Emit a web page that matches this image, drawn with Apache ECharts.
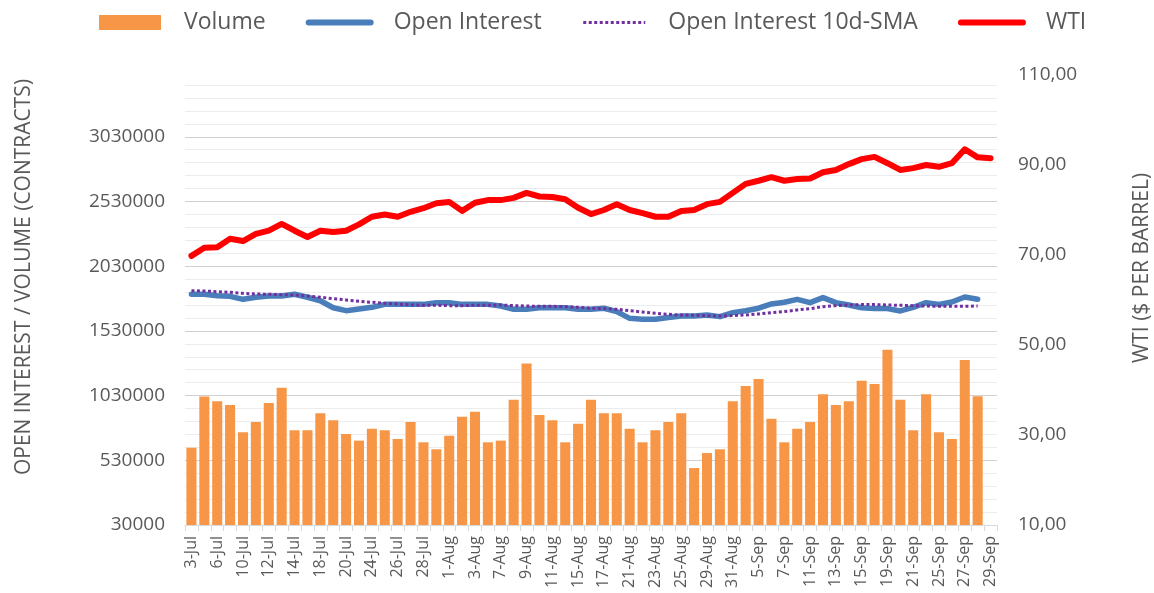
<!DOCTYPE html>
<html>
<head>
<meta charset="utf-8">
<script src="https://cdn.jsdelivr.net/npm/echarts@6/dist/echarts.min.js"></script>
<style>
  html, body { margin: 0; padding: 0; background: #fff; }
  #chart { width: 1154px; height: 593px; }
</style>
</head>
<body>
<div id="chart"></div>
<script>
// trading days, Jul - Sep
var dates = ['3-Jul','5-Jul','6-Jul','7-Jul','10-Jul','11-Jul','12-Jul','13-Jul','14-Jul','17-Jul','18-Jul','19-Jul','20-Jul','21-Jul','24-Jul','25-Jul','26-Jul','27-Jul','28-Jul','31-Jul',
  '1-Aug','2-Aug','3-Aug','4-Aug','7-Aug','8-Aug','9-Aug','10-Aug','11-Aug','14-Aug','15-Aug','16-Aug','17-Aug','18-Aug','21-Aug','22-Aug','23-Aug','24-Aug','25-Aug','28-Aug','29-Aug','30-Aug','31-Aug',
  '1-Sep','5-Sep','6-Sep','7-Sep','8-Sep','11-Sep','12-Sep','13-Sep','14-Sep','15-Sep','18-Sep','19-Sep','20-Sep','21-Sep','22-Sep','25-Sep','26-Sep','27-Sep','28-Sep','29-Sep'];

var volume = [627000, 1022000, 986000, 957000, 746000, 826000, 973000, 1091000, 762000, 762000,
  893000, 839000, 733000, 682000, 774000, 762000, 695000, 826000, 669000, 615000,
  720000, 867000, 906000, 669000, 682000, 998000, 1277000, 880000, 839000, 669000,
  813000, 998000, 893000, 893000, 774000, 669000, 762000, 826000, 893000, 470000,
  586000, 615000, 986000, 1104000, 1158000, 851000, 669000, 774000, 826000, 1040000,
  957000, 986000, 1145000, 1120000, 1385000, 998000, 762000, 1040000, 746000, 695000,
  1305000, 1025000, null];

var openInterest = [1813000, 1813000, 1802000, 1797000, 1774000, 1790000, 1800000, 1800000, 1813000, 1790000,
  1763000, 1709000, 1686000, 1699000, 1712000, 1735000, 1735000, 1735000, 1735000, 1748000,
  1748000, 1735000, 1735000, 1735000, 1722000, 1697000, 1697000, 1709000, 1709000, 1709000,
  1697000, 1698000, 1705000, 1679000, 1627000, 1620000, 1620000, 1633000, 1645000, 1645000,
  1653000, 1640000, 1671000, 1686000, 1705000, 1738000, 1751000, 1774000, 1748000, 1787000,
  1748000, 1730000, 1709000, 1702000, 1702000, 1684000, 1712000, 1748000, 1735000, 1753000,
  1792000, 1774000, null];

var oiSma = [1841000, 1838000, 1833000, 1828000, 1820000, 1815000, 1813000, 1810000, 1807000, 1800000,
  1790000, 1779000, 1769000, 1759000, 1751000, 1743000, 1738000, 1730000, 1728000, 1728000,
  1725000, 1725000, 1728000, 1728000, 1730000, 1725000, 1722000, 1720000, 1720000, 1717000,
  1712000, 1705000, 1702000, 1697000, 1686000, 1676000, 1666000, 1658000, 1653000, 1651000,
  1648000, 1645000, 1648000, 1653000, 1661000, 1671000, 1679000, 1692000, 1702000, 1717000,
  1725000, 1730000, 1733000, 1733000, 1730000, 1728000, 1725000, 1722000, 1720000, 1720000,
  1720000, 1722000, null];

var wti = [69.8, 71.6, 71.7, 73.6, 73.1, 74.7, 75.4, 76.9, 75.4, 74.0,
  75.4, 75.1, 75.4, 76.8, 78.5, 79.0, 78.5, 79.6, 80.4, 81.5,
  81.8, 79.8, 81.6, 82.2, 82.2, 82.7, 83.8, 83.0, 82.9, 82.4,
  80.5, 79.1, 80.0, 81.3, 80.0, 79.3, 78.5, 78.5, 79.8, 80.0,
  81.3, 81.8, 83.8, 85.8, 86.5, 87.3, 86.5, 86.9, 87.0, 88.4,
  88.9, 90.2, 91.3, 91.8, 90.4, 88.9, 89.3, 90.0, 89.6, 90.4,
  93.5, 91.7, 91.5];

var textColor = '#595959';
var font = 'Open Sans';
var blue = '#4A7EBB', purple = '#7030A0', red = '#FF0000', orange = '#F79646';

var chart = echarts.init(document.getElementById('chart'));

var option = {
  animation: false,
  textStyle: { fontFamily: font, color: textColor },
  legend: {
    left: 99,
    top: 11,
    padding: 0,
    itemWidth: 62,
    itemHeight: 15,
    itemGap: 40,
    textStyle: { fontSize: 23, color: textColor, fontFamily: font, padding: [0, 0, 0, 18] },
    data: [
      { name: 'Volume', icon: 'rect' },
      { name: 'Open Interest', itemStyle: { opacity: 0 }, lineStyle: { width: 6, color: blue } },
      { name: 'Open Interest 10d-SMA', itemStyle: { opacity: 0 }, lineStyle: { width: 3, color: purple, type: [3, 2.5] } },
      { name: 'WTI', itemStyle: { opacity: 0 }, lineStyle: { width: 6, color: red } }
    ]
  },
  grid: [
    { left: 185, right: 157, top: 85, bottom: 68, outerBoundsMode: 'none' },
    { left: 185, right: 157, top: 75, bottom: 68, outerBoundsMode: 'none' }
  ],
  xAxis: [
    {
      type: 'category',
      gridIndex: 0,
      data: dates,
      boundaryGap: true,
      axisLine: { lineStyle: { color: '#d9d9d9', width: 1 } },
      axisTick: { show: true, interval: 0, length: 6, lineStyle: { color: '#d9d9d9' } },
      axisLabel: {
        interval: 1,
        rotate: 90,
        margin: 11,
        fontSize: 16,
        color: textColor,
        fontFamily: font
      }
    },
    {
      type: 'category',
      gridIndex: 1,
      data: dates,
      boundaryGap: true,
      show: false
    }
  ],
  yAxis: [
    {
      type: 'value',
      gridIndex: 0,
      min: 30000,
      max: 3430000,
      interval: 100000,
      name: 'OPEN INTEREST / VOLUME (CONTRACTS)',
      nameLocation: 'middle',
      nameRotate: 90,
      nameGap: 150,
      nameTextStyle: { fontSize: 21, color: textColor, fontFamily: font, padding: [0, 0, 0, 56] },
      axisLine: { show: false },
      axisTick: { show: false },
      axisLabel: {
        margin: 20,
        fontSize: 19,
        color: textColor,
        fontFamily: font,
        formatter: function (v) {
          return (v - 30000) % 500000 === 0 ? String(v) : '';
        }
      },
      splitLine: {
        show: true,
        lineStyle: { color: ['#d0d0d0', '#ececec', '#ececec', '#ececec', '#ececec'], width: 1 }
      }
    },
    {
      type: 'value',
      gridIndex: 1,
      position: 'right',
      min: 10,
      max: 110,
      interval: 20,
      name: 'WTI ($ PER BARREL)',
      nameLocation: 'middle',
      nameRotate: 90,
      nameGap: 135,
      nameTextStyle: { fontSize: 21, color: textColor, fontFamily: font, padding: [0, 0, 0, 64] },
      axisLine: { show: false },
      axisTick: { show: false },
      splitLine: { show: false },
      axisLabel: {
        margin: 21,
        fontSize: 19,
        color: textColor,
        fontFamily: font,
        formatter: function (v) {
          return v.toFixed(2).replace('.', ',');
        }
      }
    }
  ],
  series: [
    {
      name: 'Volume',
      type: 'bar',
      xAxisIndex: 0,
      yAxisIndex: 0,
      data: volume,
      barCategoryGap: '22%',
      itemStyle: { color: orange }
    },
    {
      name: 'Open Interest',
      type: 'line',
      xAxisIndex: 0,
      yAxisIndex: 0,
      data: openInterest,
      symbol: 'none',
      lineStyle: { color: blue, width: 5.5, cap: 'round', join: 'round' },
      itemStyle: { color: blue }
    },
    {
      name: 'Open Interest 10d-SMA',
      type: 'line',
      xAxisIndex: 0,
      yAxisIndex: 0,
      data: oiSma,
      symbol: 'none',
      lineStyle: { color: purple, width: 3, type: [3, 2.5] },
      itemStyle: { color: purple }
    },
    {
      name: 'WTI',
      type: 'line',
      xAxisIndex: 1,
      yAxisIndex: 1,
      data: wti,
      symbol: 'none',
      lineStyle: { color: red, width: 6, cap: 'round', join: 'round' },
      itemStyle: { color: red }
    }
  ]
};

chart.setOption(option);
</script>
</body>
</html>
